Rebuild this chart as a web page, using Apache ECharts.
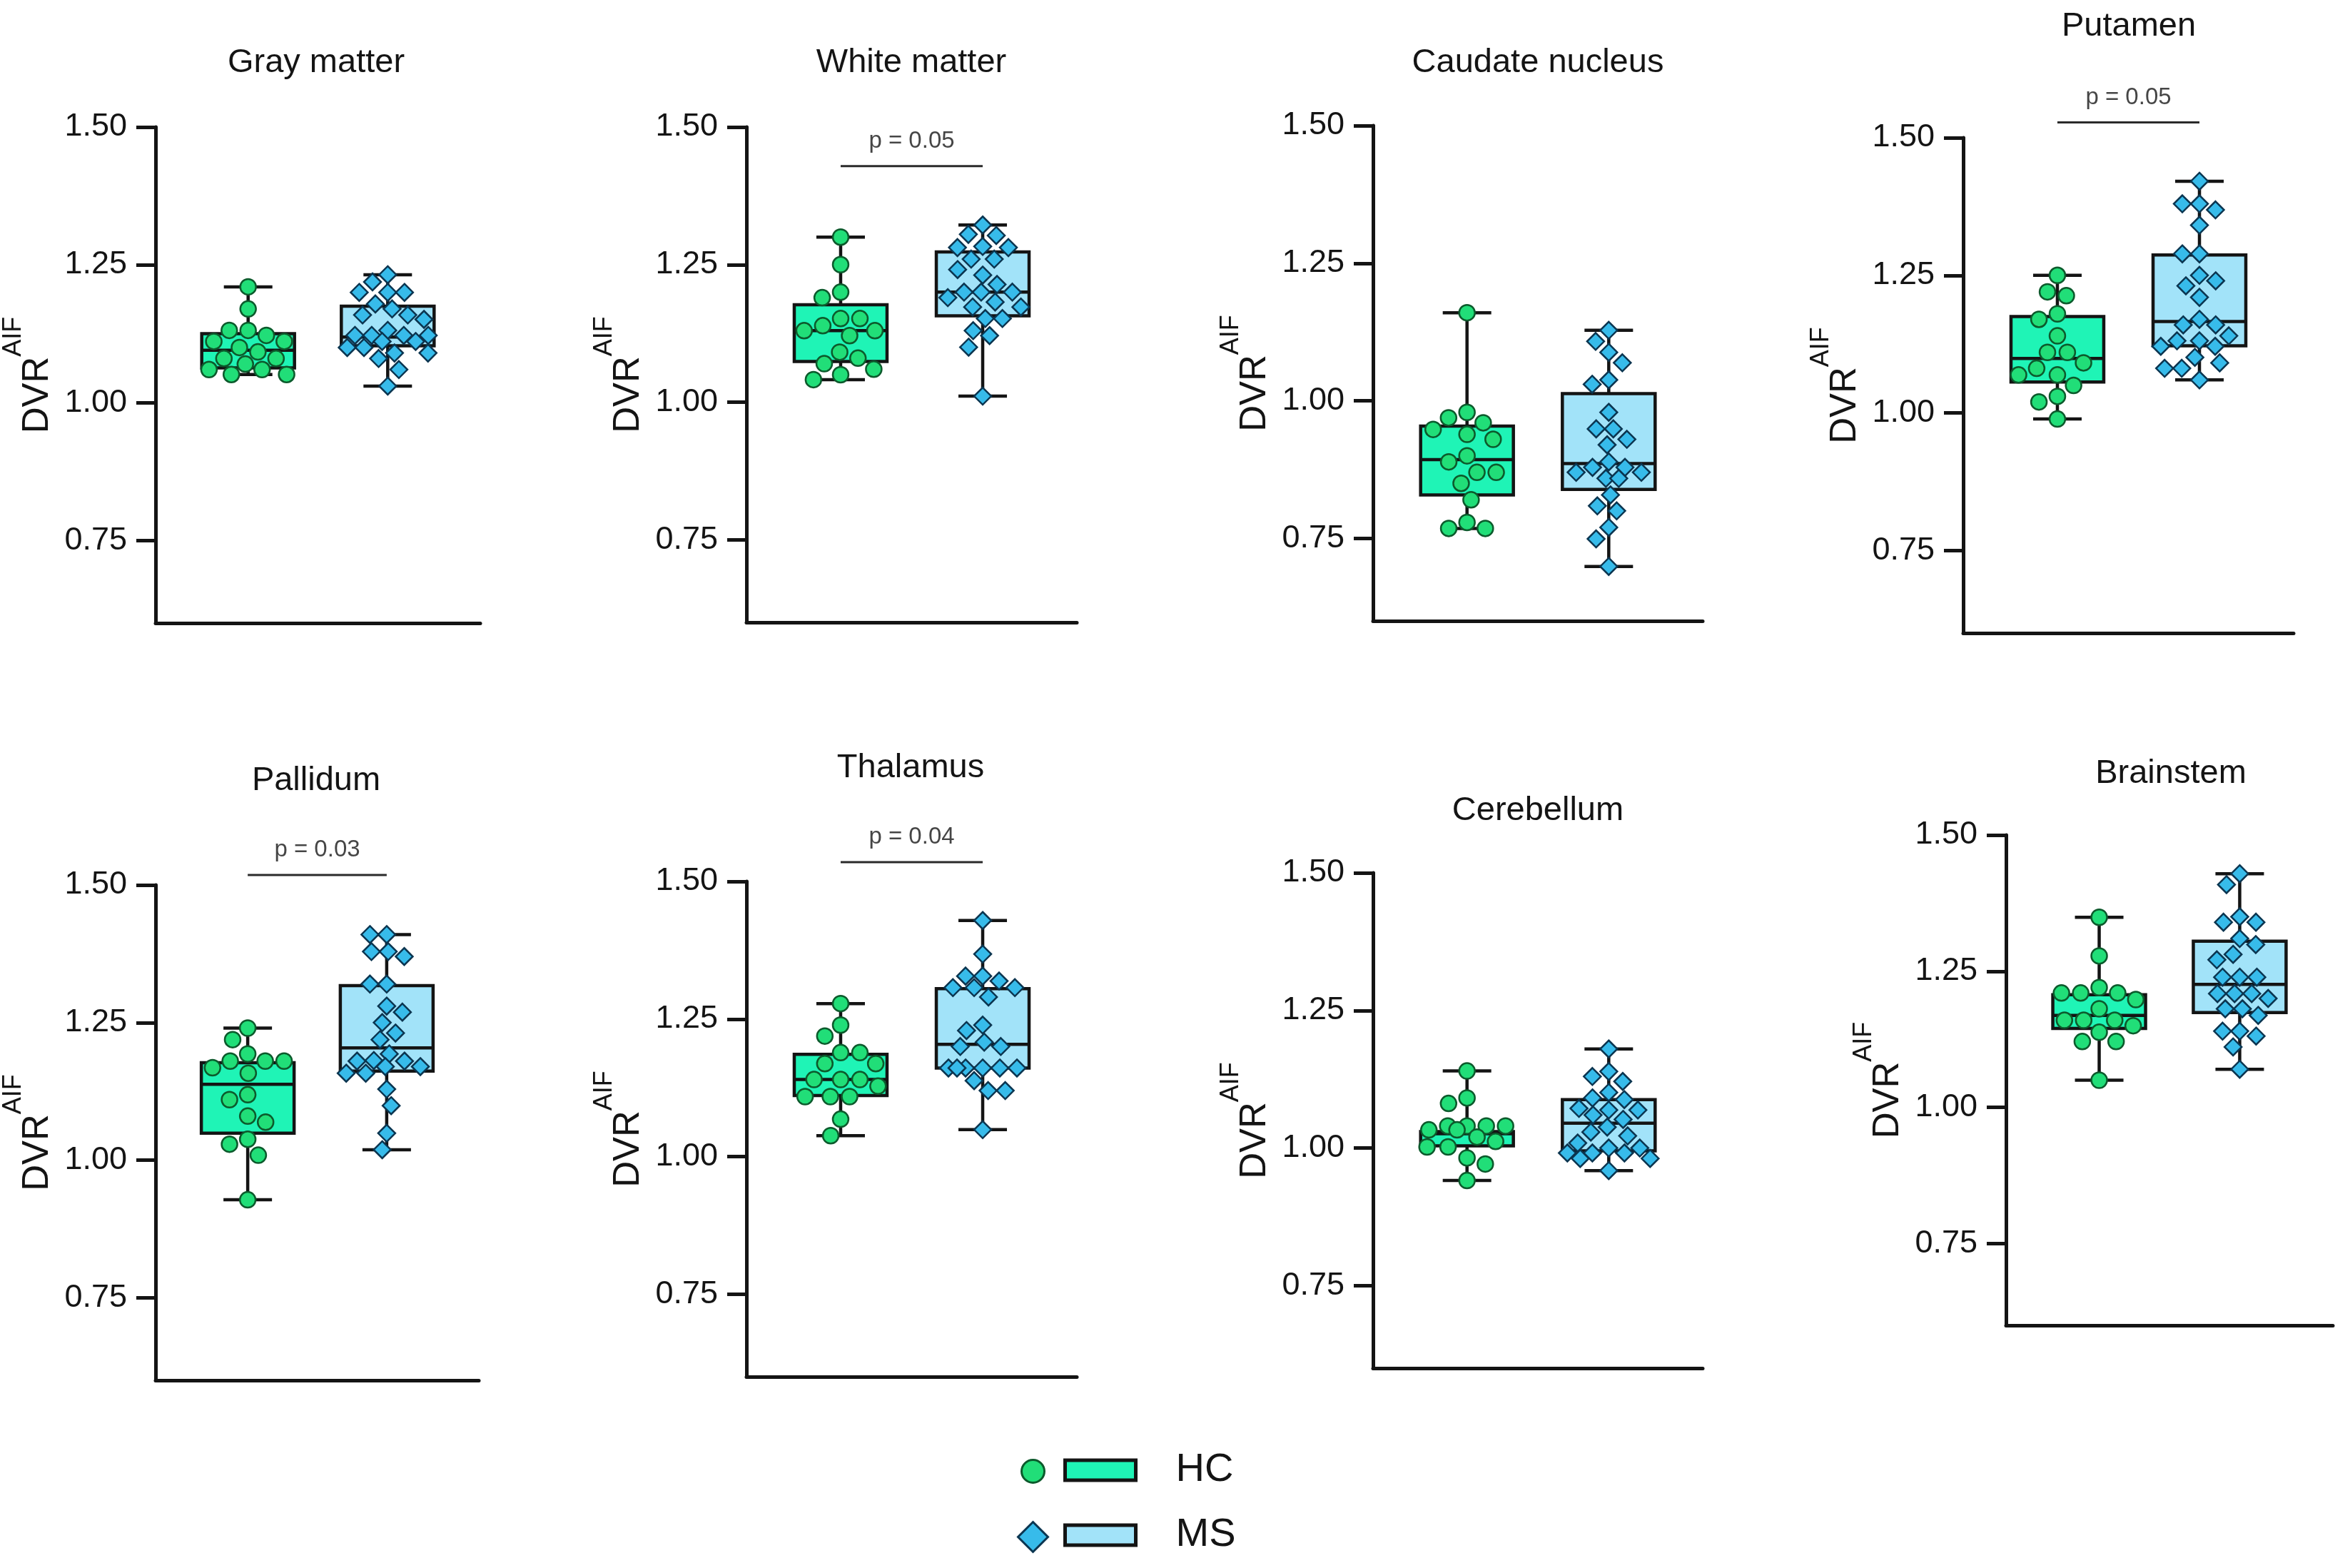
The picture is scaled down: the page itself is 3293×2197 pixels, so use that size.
<!DOCTYPE html>
<html><head><meta charset="utf-8">
<script src="https://cdn.jsdelivr.net/npm/echarts@6/dist/echarts.min.js"></script>
<style>html,body{margin:0;padding:0;background:#fff}#c{width:3293px;height:2197px}</style>
</head><body><div id="c"></div>
<script>
// ---------------- data ----------------
const regions = ['Gray matter','White matter','Caudate nucleus','Putamen','Pallidum','Thalamus','Cerebellum','Brainstem'];
const groups = ['HC','MS'];
const tickValues = [0.75, 1.00, 1.25, 1.50];
const pLabels = ['', 'p = 0.05', '', 'p = 0.05', 'p = 0.03', 'p = 0.04', '', ''];

const grayHC = [1.21,1.17,1.131,1.131,1.122,1.111,1.111,1.10,1.092,1.08,1.08,1.07,1.06,1.06,1.051,1.051];
const grayMS = [1.232,1.219,1.20,1.20,1.20,1.179,1.17,1.159,1.159,1.151,1.131,1.122,1.122,1.122,1.122,1.111,1.111,1.10,1.10,1.09,1.09,1.08,1.06,1.03];
const grayHCBox = [1.051,1.063,1.095,1.125,1.21];
const grayMSBox = [1.03,1.103,1.119,1.175,1.232];

const whiteHC = [1.30,1.25,1.20,1.19,1.152,1.152,1.139,1.13,1.13,1.121,1.091,1.08,1.07,1.06,1.05,1.041];
const whiteMS = [1.322,1.305,1.303,1.283,1.281,1.281,1.26,1.26,1.241,1.231,1.214,1.20,1.20,1.20,1.19,1.182,1.173,1.173,1.152,1.152,1.13,1.121,1.10,1.011];
const whiteHCBox = [1.041,1.074,1.13,1.177,1.30];
const whiteMSBox = [1.011,1.157,1.20,1.273,1.322];

const caudateHC = [1.16,0.979,0.969,0.96,0.948,0.939,0.93,0.90,0.889,0.87,0.87,0.85,0.82,0.779,0.768,0.768];
const caudateMS = [1.128,1.108,1.088,1.069,1.038,1.03,0.979,0.949,0.949,0.93,0.92,0.889,0.879,0.879,0.87,0.87,0.859,0.859,0.829,0.809,0.80,0.77,0.749,0.699];
const caudateHCBox = [0.768,0.829,0.893,0.954,1.16];
const caudateMSBox = [0.699,0.839,0.886,1.013,1.128];

const putamenHC = [1.25,1.22,1.213,1.18,1.17,1.14,1.11,1.11,1.091,1.081,1.069,1.069,1.05,1.03,1.02,0.989];
const putamenMS = [1.421,1.38,1.38,1.369,1.341,1.289,1.289,1.25,1.24,1.231,1.21,1.17,1.16,1.16,1.14,1.131,1.131,1.121,1.121,1.101,1.091,1.081,1.081,1.06];
const putamenHCBox = [0.989,1.056,1.099,1.175,1.25];
const putamenMSBox = [1.06,1.122,1.166,1.287,1.421];

const pallidumHC = [1.24,1.219,1.193,1.18,1.18,1.18,1.168,1.158,1.119,1.11,1.08,1.069,1.038,1.029,1.009,0.928];
const pallidumMS = [1.41,1.41,1.379,1.379,1.37,1.32,1.32,1.28,1.269,1.25,1.231,1.219,1.193,1.181,1.18,1.18,1.17,1.17,1.158,1.158,1.129,1.099,1.049,1.019];
const pallidumHCBox = [0.928,1.049,1.138,1.177,1.24];
const pallidumMSBox = [1.019,1.162,1.204,1.317,1.41];

const thalamusHC = [1.278,1.239,1.219,1.189,1.189,1.169,1.169,1.14,1.14,1.14,1.128,1.109,1.109,1.109,1.068,1.038];
const thalamusMS = [1.429,1.368,1.328,1.328,1.319,1.307,1.307,1.307,1.29,1.239,1.229,1.208,1.20,1.20,1.161,1.161,1.161,1.161,1.161,1.161,1.138,1.12,1.12,1.049];
const thalamusHCBox = [1.038,1.111,1.14,1.186,1.278];
const thalamusMSBox = [1.049,1.161,1.204,1.305,1.429];

const cerebellumHC = [1.14,1.091,1.081,1.04,1.04,1.04,1.04,1.033,1.033,1.02,1.012,1.002,1.002,0.982,0.971,0.941];
const cerebellumMS = [1.18,1.139,1.13,1.121,1.101,1.091,1.088,1.072,1.069,1.069,1.06,1.052,1.038,1.029,1.022,1.009,1.0,1.0,0.991,0.991,0.991,0.981,0.981,0.959];
const cerebellumHCBox = [0.941,1.004,1.026,1.03,1.14];
const cerebellumMSBox = [0.959,0.995,1.045,1.088,1.18];

const brainstemHC = [1.349,1.278,1.22,1.21,1.21,1.21,1.198,1.181,1.16,1.16,1.16,1.15,1.138,1.121,1.121,1.05];
const brainstemMS = [1.429,1.409,1.35,1.34,1.34,1.31,1.299,1.281,1.271,1.239,1.239,1.239,1.209,1.209,1.209,1.20,1.181,1.181,1.169,1.14,1.14,1.131,1.111,1.07];
const brainstemHCBox = [1.05,1.145,1.169,1.207,1.349];
const brainstemMSBox = [1.07,1.174,1.226,1.305,1.429];

const pointsHC = [grayHC, whiteHC, caudateHC, putamenHC, pallidumHC, thalamusHC, cerebellumHC, brainstemHC];
const pointsMS = [grayMS, whiteMS, caudateMS, putamenMS, pallidumMS, thalamusMS, cerebellumMS, brainstemMS];
const boxesHC = [grayHCBox, whiteHCBox, caudateHCBox, putamenHCBox, pallidumHCBox, thalamusHCBox, cerebellumHCBox, brainstemHCBox];
const boxesMS = [grayMSBox, whiteMSBox, caudateMSBox, putamenMSBox, pallidumMSBox, thalamusMSBox, cerebellumMSBox, brainstemMSBox];

// ---------------- layout & style ----------------
const FONT = 'Liberation Sans, Arial, Helvetica, sans-serif';
const Y_MIN = 0.6, Y_MAX = 1.5;
const X_MIN = -0.663, X_MAX = 1.663;
const panels = [
  {left:208,  top:178,  w:465, h:695, tx:443,  ty:89},
  {left:1046, top:178,  w:463, h:694, tx:1277, ty:89,   by:1.429},
  {left:1924, top:176,  w:462, h:694, tx:2155, ty:89},
  {left:2751, top:193,  w:463, h:694, tx:2983, ty:38,   by:1.528},
  {left:208,  top:1240, w:463, h:694, tx:443,  ty:1095, by:1.518},
  {left:1046, top:1235, w:463, h:694, tx:1276, ty:1077, by:1.535},
  {left:1924, top:1223, w:462, h:694, tx:2155, ty:1137},
  {left:2811, top:1170, w:458, h:687, tx:3042, ty:1085}
];
const HC_PT = '#21de78', HC_PT_B = '#0c5a2c';
const MS_PT = '#37bbea', MS_PT_B = '#0b3550';
const HC_BOX = '#1ff4b6', MS_BOX = '#a2e3f9';
const INK = '#141414';
const BOX_HALF = 65, CAP_HALF = 34;

// deterministic beeswarm (capped width): spreads near values sideways inside the box
function swarm(values, center, pxPerX, pxPerY, D, cap) {
  const order = values.map((v, i) => i).sort((a, b) => values[b] - values[a]);
  const placed = [];
  const xs = new Array(values.length);
  let flip = 1;
  for (const i of order) {
    const y = values[i] * pxPerY;
    const forb = [];
    for (const p of placed) {
      const dy = Math.abs(p.y - y);
      if (dy < D) { const dx = Math.sqrt(D * D - dy * dy); forb.push([p.x - dx, p.x + dx]); }
    }
    let cands = [0];
    forb.forEach(f => cands.push(f[0], f[1]));
    cands = cands.filter(c => Math.abs(c) <= cap);
    cands.sort((a, b) => (Math.abs(a) - Math.abs(b)) || (flip * (a - b)));
    let x = null;
    for (const c of cands) {
      if (forb.every(f => c <= f[0] + 1e-6 || c >= f[1] - 1e-6)) { x = c; break; }
    }
    if (x === null) {
      let best = -1;
      for (let c = -cap; c <= cap; c += 2) {
        let m = Infinity;
        placed.forEach(p => { m = Math.min(m, Math.hypot(p.x - c, p.y - y)); });
        if (m > best + 1e-9) { best = m; x = c; }
      }
    }
    if (x !== 0) flip = -flip;
    placed.push({x, y});
    xs[i] = center + x / pxPerX;
  }
  return values.map((v, i) => [xs[i], v]);
}

function renderBox(params, api) {
  const x = api.value(0);
  const pMin = api.coord([x, api.value(1)]);
  const pQ1 = api.coord([x, api.value(2)]);
  const pMed = api.coord([x, api.value(3)]);
  const pQ3 = api.coord([x, api.value(4)]);
  const pMax = api.coord([x, api.value(5)]);
  const cx = pMed[0];
  const fill = x < 0.5 ? HC_BOX : MS_BOX;
  const ls = {stroke: INK, lineWidth: 4.5};
  return {type: 'group', children: [
    {type: 'line', shape: {x1: cx, y1: pMax[1], x2: cx, y2: pQ3[1]}, style: ls},
    {type: 'line', shape: {x1: cx, y1: pQ1[1], x2: cx, y2: pMin[1]}, style: ls},
    {type: 'line', shape: {x1: cx - CAP_HALF, y1: pMax[1], x2: cx + CAP_HALF, y2: pMax[1]}, style: ls},
    {type: 'line', shape: {x1: cx - CAP_HALF, y1: pMin[1], x2: cx + CAP_HALF, y2: pMin[1]}, style: ls},
    {type: 'rect', shape: {x: cx - BOX_HALF, y: pQ3[1], width: 2 * BOX_HALF, height: pQ1[1] - pQ3[1]},
      style: {fill: fill, stroke: INK, lineWidth: 4.5}},
    {type: 'line', shape: {x1: cx - BOX_HALF, y1: pMed[1], x2: cx + BOX_HALF, y2: pMed[1]}, style: ls}
  ]};
}

const grid = [], xAxis = [], yAxis = [], title = [], series = [];
panels.forEach((p, k) => {
  grid.push({left: p.left, top: p.top, width: p.w, height: p.h, containLabel: false});
  title.push({text: regions[k], left: p.tx, top: p.ty - 24, textAlign: 'center', padding: 0,
    textStyle: {fontSize: 47, fontWeight: 'normal', color: INK, fontFamily: FONT}});
  xAxis.push({gridIndex: k, type: 'value', min: X_MIN, max: X_MAX,
    axisLine: {show: true, onZero: false, lineStyle: {color: INK, width: 5}},
    axisTick: {show: false}, axisLabel: {show: false}, splitLine: {show: false}});
  yAxis.push({gridIndex: k, type: 'value', min: Y_MIN, max: Y_MAX,
    axisLine: {show: true, onZero: false, lineStyle: {color: INK, width: 5}},
    axisTick: {show: true, customValues: tickValues, length: 27, lineStyle: {color: INK, width: 5}},
    axisLabel: {show: true, customValues: tickValues, margin: 40, fontSize: 45, color: INK, fontFamily: FONT,
      formatter: v => v.toFixed(2)},
    splitLine: {show: false},
    name: '{a|DVR}{b|AIF}', nameLocation: 'middle', nameGap: 140, nameRotate: 90,
    nameTextStyle: {fontFamily: FONT, color: INK, rich: {
      a: {fontSize: 51, lineHeight: 51, verticalAlign: 'bottom', fontFamily: FONT, color: INK},
      b: {fontSize: 36, lineHeight: 77, verticalAlign: 'top', fontFamily: FONT, color: INK}}}});

  const pxPerY = p.h / (Y_MAX - Y_MIN);
  const pxPerX = p.w / (X_MAX - X_MIN);
  [boxesHC[k], boxesMS[k]].forEach((b, g) => {
    series.push({type: 'custom', name: groups[g], xAxisIndex: k, yAxisIndex: k, z: 2,
      renderItem: renderBox, data: [[g].concat(b)], encode: {x: 0, y: [1, 2, 3, 4, 5]}, silent: true});
  });
  series.push({type: 'scatter', name: 'HC', xAxisIndex: k, yAxisIndex: k, z: 3, symbol: 'circle', symbolSize: 22,
    itemStyle: {color: HC_PT, borderColor: HC_PT_B, borderWidth: 2.5, opacity: 1},
    data: swarm(pointsHC[k], 0, pxPerX, pxPerY, 27, 56)});
  series.push({type: 'scatter', name: 'MS', xAxisIndex: k, yAxisIndex: k, z: 3, symbol: 'diamond', symbolSize: 24,
    itemStyle: {color: MS_PT, borderColor: MS_PT_B, borderWidth: 2.5, opacity: 1},
    data: swarm(pointsMS[k], 1, pxPerX, pxPerY, 24, 58)});

  if (pLabels[k]) {
    series.push({type: 'line', xAxisIndex: k, yAxisIndex: k, clip: false, symbol: 'none', silent: true, z: 4,
      lineStyle: {color: '#2a2a2a', width: 3}, data: [[0, p.by], [1, p.by]]});
    series.push({type: 'scatter', xAxisIndex: k, yAxisIndex: k, clip: false, silent: true, z: 4,
      symbolSize: 1, itemStyle: {color: 'rgba(0,0,0,0)'},
      label: {show: true, position: 'top', distance: 18, formatter: pLabels[k], fontSize: 33, color: '#161616', fontFamily: FONT},
      data: [[0.5, p.by]]});
  }
});

const legend = [
  {data: [{name: 'HC', icon: 'circle', itemStyle: {color: HC_PT, borderColor: HC_PT_B, borderWidth: 3}}],
    left: 1430, top: 2044, itemWidth: 32, itemHeight: 32, padding: 0, selectedMode: false, formatter: () => ''},
  {data: [{name: 'MS', icon: 'diamond', itemStyle: {color: MS_PT, borderColor: MS_PT_B, borderWidth: 3}}],
    left: 1425, top: 2131, itemWidth: 42, itemHeight: 42, padding: 0, selectedMode: false, formatter: () => ''},
  {data: [{name: 'HC', icon: 'rect', itemStyle: {color: HC_BOX, borderColor: INK, borderWidth: 5}},
          {name: 'MS', icon: 'rect', itemStyle: {color: MS_BOX, borderColor: INK, borderWidth: 5}}],
    orient: 'vertical', left: 1490, top: 2030, itemWidth: 99, itemHeight: 28, itemGap: 31, padding: 0,
    selectedMode: false,
    textStyle: {fontSize: 56, lineHeight: 60, color: INK, fontFamily: FONT, padding: [0, 0, 0, 51]}}
];

const chart = echarts.init(document.getElementById('c'), null, {renderer: 'canvas'});
chart.setOption({backgroundColor: '#fff', animation: false, textStyle: {fontFamily: FONT},
  title, grid, xAxis, yAxis, legend, series});
</script></body></html>
